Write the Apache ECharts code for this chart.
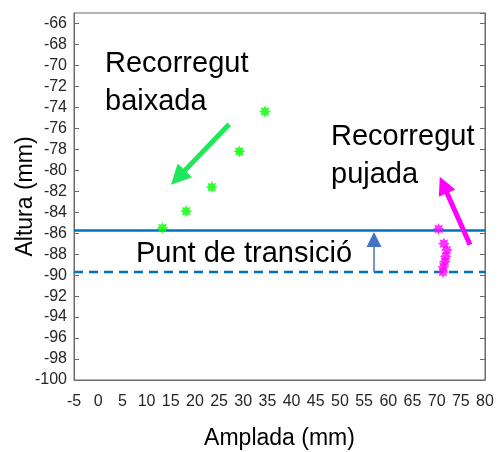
<!DOCTYPE html>
<html><head><meta charset="utf-8">
<script src="https://cdn.jsdelivr.net/npm/echarts@6/dist/echarts.min.js"></script>
<style>html,body{margin:0;padding:0;background:#fff}#c{width:500px;height:452px}</style>
</head><body><div id="c"></div>
<script>
// ---- data ----
const xMin = -5, xMax = 80, xStep = 5;
const yMin = -100, yMax = -65, yStep = 2;
const greenX = [13.3, 18.2, 23.5, 29.2, 34.5];
const greenY = [-85.5, -83.9, -81.6, -78.2, -74.4];
const magentaX = [70.4, 71.5, 72.1, 71.9, 71.7, 71.4, 71.3];
const magentaY = [-85.6, -87.0, -87.6, -88.2, -88.7, -89.2, -89.7];
const lineX = [-5, 80];
const transitionY = -85.75;
const lowerY = -89.7;
const greenArrow = [[27.1, -75.6], [16.5, -80.7]];
const magentaArrow = [[76.9, -87.1], [71.4, -81.4]];
const blueArrow = [[57.05, -89.7], [57.05, -86.6]];
const xTitle = 'Amplada (mm)';
const yTitle = 'Altura (mm)';
const annDown = 'Recorregut\nbaixada';
const annUp = 'Recorregut\npujada';
const annTrans = 'Punt de transició';

// asterisk-like symbol path
function starPath(n, rIn) {
  let d = '';
  for (let i = 0; i < n * 2; i++) {
    const r = i % 2 === 0 ? 1 : rIn;
    const a = Math.PI * i / n - Math.PI / 2;
    const x = (50 + 50 * r * Math.cos(a)).toFixed(2), y = (50 + 50 * r * Math.sin(a)).toFixed(2);
    d += (i === 0 ? 'M' : 'L') + x + ' ' + y + ' ';
  }
  return 'path://' + d + 'Z';
}
const star = starPath(8, 0.6);
const FONT = "'Liberation Sans', Arial, sans-serif";

const chart = echarts.init(document.getElementById('c'), null, {renderer: 'canvas'});
const axisColor = '#6b6b6b';
const option = {
  animation: false,
  backgroundColor: '#fff',
  grid: {left: 74, right: 15, top: 13, bottom: 72, containLabel: false, outerBoundsMode: 'none',
         show: true, borderColor: axisColor, borderWidth: 1},
  xAxis: {
    type: 'value', min: xMin, max: xMax, interval: xStep,
    name: xTitle, nameLocation: 'middle', nameGap: 47,
    nameTextStyle: {fontFamily: FONT, fontSize: 23, color: '#000'},
    axisLine: {show: true, onZero: false, lineStyle: {color: axisColor}},
    axisTick: {show: false},
    axisLabel: {fontFamily: FONT, fontSize: 16, color: '#262626', margin: 14},
    splitLine: {show: false}
  },
  yAxis: [{
    type: 'value', min: yMin, max: yMax, interval: yStep,
    name: yTitle, nameLocation: 'middle', nameGap: 37, nameMoveOverlap: false,
    nameTextStyle: {fontFamily: FONT, fontSize: 23, color: '#000'},
    axisLine: {show: true, onZero: false, lineStyle: {color: axisColor}},
    axisTick: {show: true, inside: true, length: 5, lineStyle: {color: axisColor}},
    axisLabel: {fontFamily: FONT, fontSize: 16, color: '#262626', margin: 7, showMaxLabel: false},
    splitLine: {show: false}
  }, {
    type: 'value', min: yMin, max: yMax, interval: yStep, position: 'right',
    axisLine: {show: true, onZero: false, lineStyle: {color: axisColor}},
    axisTick: {show: true, inside: true, length: 5, lineStyle: {color: axisColor}},
    axisLabel: {show: false},
    splitLine: {show: false}
  }],
  series: [
    {
      type: 'line', data: lineX.map(x => [x, transitionY]), symbol: 'none',
      lineStyle: {color: '#0072bd', width: 2.5}, z: 2
    },
    {
      type: 'line', data: lineX.map(x => [x, lowerY]), symbol: 'none',
      lineStyle: {color: '#0072bd', width: 2.5, type: [9, 6]}, z: 2,
      markLine: {
        silent: true, symbol: ['none', 'triangle'], symbolSize: 15,
        lineStyle: {color: '#4472c4', width: 1.5, type: 'solid'},
        label: {show: false},
        data: [[{coord: blueArrow[0]}, {coord: blueArrow[1]}]]
      }
    },
    {
      type: 'scatter', data: greenX.map((x, i) => [x, greenY[i]]),
      symbol: star, symbolSize: 12, itemStyle: {color: '#00ff00'}, z: 3,
      markLine: {
        silent: true, symbol: ['none', 'triangle'], symbolSize: 20,
        lineStyle: {color: '#1ee85a', width: 5, type: 'solid'},
        label: {show: false},
        data: [[{coord: greenArrow[0]}, {coord: greenArrow[1]}]]
      }
    },
    {
      type: 'scatter', data: magentaX.map((x, i) => [x, magentaY[i]]),
      symbol: star, symbolSize: 12, itemStyle: {color: '#ff00ff'}, z: 3,
      markLine: {
        silent: true, symbol: ['none', 'triangle'], symbolSize: 18,
        lineStyle: {color: '#ff00ff', width: 5, type: 'solid'},
        label: {show: false},
        data: [[{coord: magentaArrow[0]}, {coord: magentaArrow[1]}]]
      }
    }
  ],
  graphic: [
    {type: 'text', left: 105, top: 45, z: 10,
     style: {text: annDown, font: '29px ' + FONT, fill: '#000', lineHeight: 38}},
    {type: 'text', left: 331, top: 118, z: 10,
     style: {text: annUp, font: '29px ' + FONT, fill: '#000', lineHeight: 38}},
    {type: 'text', left: 136, top: 235, z: 10,
     style: {text: annTrans, font: '29px ' + FONT, fill: '#000', lineHeight: 38}}
  ]
};
chart.setOption(option);
</script></body></html>
